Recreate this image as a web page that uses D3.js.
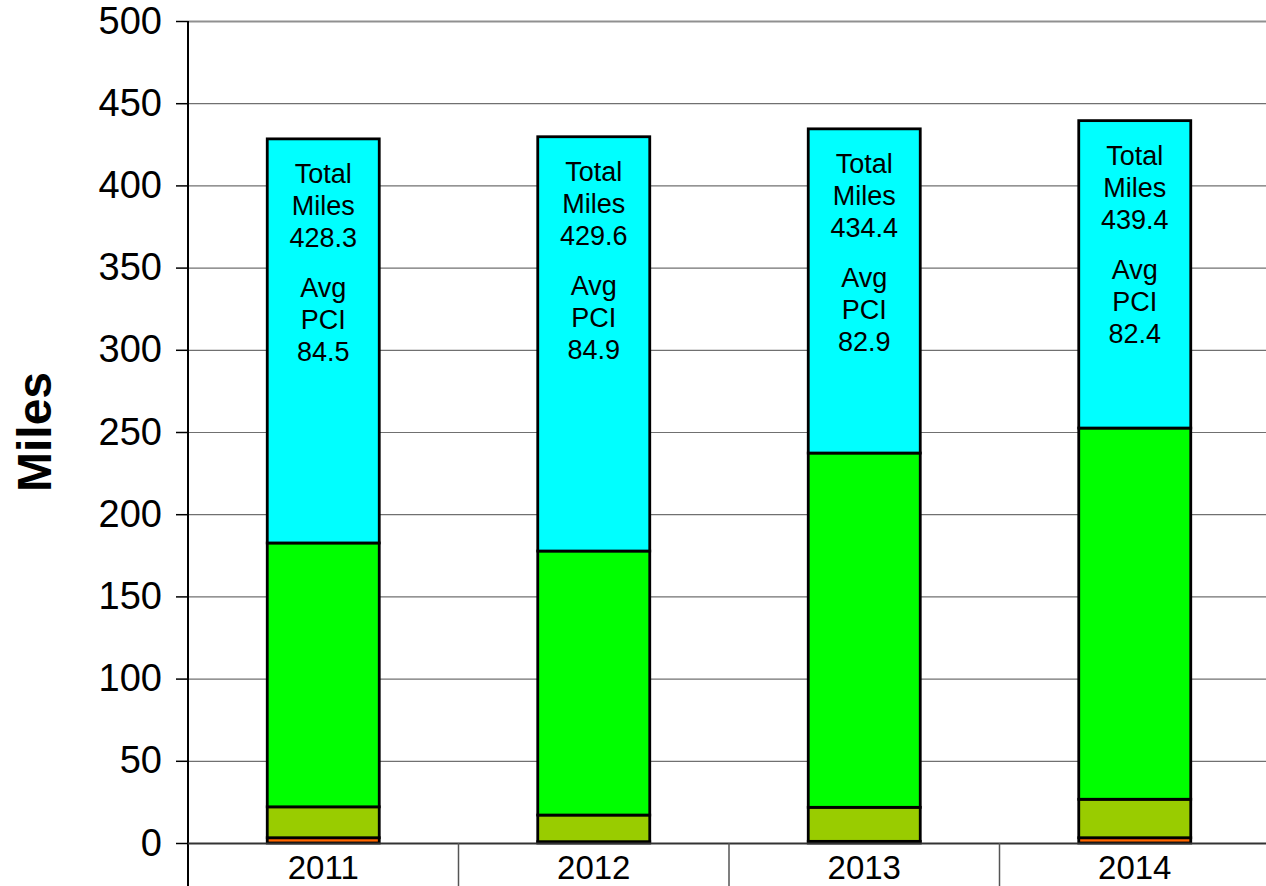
<!DOCTYPE html>
<html>
<head>
<meta charset="utf-8">
<script src="https://cdn.jsdelivr.net/npm/d3@7"></script>
<style>
  body { margin: 0; background: #fff; }
  text { font-family: "Liberation Sans", Arial, sans-serif; }
</style>
</head>
<body>
<div id="chart"></div>
<script>
// data
var years = ["2011", "2012", "2013", "2014"];
var poor = [3.2, 0.8, 1.0, 3.2];
var fair = [18.8, 16.2, 20.7, 23.4];
var good = [160.5, 160.6, 215.5, 225.8];
var totalMiles = [428.3, 429.6, 434.4, 439.4];
var avgPci = [84.5, 84.9, 82.9, 82.4];
var yTicks = [0, 50, 100, 150, 200, 250, 300, 350, 400, 450, 500];

var seriesKeys = ["poor", "fair", "good", "excellent"];
var colors = { poor: "#FF6600", fair: "#99CC00", good: "#00FF00", excellent: "#00FFFF" };

// build rows for stacking, top segment fills up to total miles
var data = years.map(function (y, i) {
    return {
        year: y,
        poor: poor[i],
        fair: fair[i],
        good: good[i],
        excellent: totalMiles[i] - poor[i] - fair[i] - good[i],
        total: totalMiles[i],
        pci: avgPci[i]
    };
});

// set up layout
var W = 1266, H = 886;
var margin = { top: 21, left: 188 },
    plotBottom = 843,
    plotRight = 1270;

var svg = d3.select("#chart").append("svg")
    .attr("width", W)
    .attr("height", H);

var x = d3.scaleBand().domain(years).range([margin.left, plotRight]).paddingInner(0).paddingOuter(0);
var y = d3.scaleLinear().domain([0, 500]).range([plotBottom, margin.top]);

var barW = 112;

// gridlines
svg.append("g").selectAll("line")
    .data(yTicks.filter(function (d) { return d > 0; }))
    .enter().append("line")
    .attr("x1", margin.left)
    .attr("x2", W)
    .attr("y1", function (d) { return y(d) + 0.5; })
    .attr("y2", function (d) { return y(d) + 0.5; })
    .attr("stroke", function (d) { return d == 500 ? "#909090" : "#707070"; })
    .attr("stroke-width", function (d) { return d == 500 ? 2 : 1.2; });

// y axis
var yAxis = d3.axisLeft(y).tickValues(yTicks).tickSize(12).tickPadding(14);
var gy = svg.append("g")
    .attr("transform", "translate(" + margin.left + ",0)")
    .call(yAxis);
gy.select(".domain").remove();
gy.selectAll(".tick line").attr("stroke", "#000").attr("stroke-width", 1.5);
gy.selectAll(".tick text")
    .attr("font-size", 38)
    .attr("fill", "#000")
    .style("font-family", "'Liberation Sans', Arial, sans-serif");

svg.append("line")
    .attr("x1", margin.left).attr("x2", margin.left)
    .attr("y1", margin.top).attr("y2", H)
    .attr("stroke", "#000").attr("stroke-width", 2);

// stacked bars
var stack = d3.stack().keys(seriesKeys);
var layers = stack(data);

svg.append("g").selectAll("g")
    .data(layers)
    .enter().append("g")
    .attr("fill", function (d) { return colors[d.key]; })
    .selectAll("rect")
    .data(function (d) { return d; })
    .enter().append("rect")
    .attr("x", function (d) { return x(d.data.year) + (x.bandwidth() - barW) / 2; })
    .attr("width", barW)
    .attr("y", function (d) { return y(d[1]); })
    .attr("height", function (d) { return y(d[0]) - y(d[1]); })
    .attr("stroke", "#000")
    .attr("stroke-width", 2.8);

// x axis
var xAxis = d3.axisBottom(x).tickSize(0).tickPadding(13);
var gx = svg.append("g")
    .attr("transform", "translate(0," + plotBottom + ")")
    .call(xAxis);
gx.select(".domain").remove();
gx.selectAll(".tick text")
    .attr("font-size", 33)
    .attr("fill", "#000")
    .style("font-family", "'Liberation Sans', Arial, sans-serif");

svg.append("line")
    .attr("x1", margin.left).attr("x2", W)
    .attr("y1", plotBottom + 0.5).attr("y2", plotBottom + 0.5)
    .attr("stroke", "#333").attr("stroke-width", 2);

// category separators
svg.append("g").selectAll("line")
    .data(years.slice(1))
    .enter().append("line")
    .attr("x1", function (d) { return x(d); })
    .attr("x2", function (d) { return x(d); })
    .attr("y1", plotBottom)
    .attr("y2", H)
    .attr("stroke", "#555")
    .attr("stroke-width", 1.5);

// labels inside bars
var lbl = svg.append("g").selectAll("text")
    .data(data)
    .enter().append("text")
    .attr("text-anchor", "middle")
    .attr("font-size", 27)
    .attr("fill", "#000")
    .attr("transform", function (d) {
        return "translate(" + (x(d.year) + x.bandwidth() / 2) + "," + (y(d.total) + 44) + ")";
    });

lbl.each(function (d) {
    var lines = ["Total", "Miles", d3.format(".1f")(d.total), "", "Avg", "PCI", d3.format(".1f")(d.pci)];
    var t = d3.select(this);
    lines.forEach(function (s, i) {
        t.append("tspan")
            .attr("x", 0)
            .attr("y", i * 32 - (i > 3 ? 14 : 0))
            .text(s);
    });
});

// y title
svg.append("text")
    .attr("transform", "translate(51,432) rotate(-90)")
    .attr("text-anchor", "middle")
    .attr("font-size", 48)
    .attr("font-weight", "bold")
    .attr("fill", "#000")
    .text("Miles");
</script>
</body>
</html>
